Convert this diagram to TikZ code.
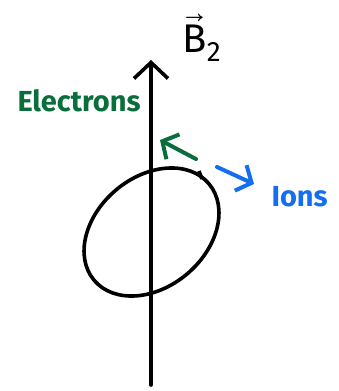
\documentclass[tikz,border=0pt]{standalone}
\usepackage{fontspec}
\usepackage{unicode-math}
\setmainfont{Fira Sans}
\setmathfont{Latin Modern Math}
\usetikzlibrary{arrows.meta}

\definecolor{elecgreen}{RGB}{10,110,60}
\definecolor{ionblue}{RGB}{20,110,240}

\begin{document}
\begin{tikzpicture}[
    x=1pt, y=-1pt,
    axis/.style={line width=3.6pt, line cap=round, -{Straight Barb[length=16pt, width=34pt, line width=3.6pt]}},
    orbit/.style={line width=3.6pt},
    drift/.style={line width=4pt, line cap=round, -{Straight Barb[length=12pt, width=28pt, line width=4pt]}},
    lbl/.style={font=\fontsize{29}{29}\selectfont\bfseries}
]
\useasboundingbox (0,0) rectangle (338,391);
\clip (0,0) rectangle (338,391);

% field axis
\coordinate (axbot) at (151,385);
\coordinate (axtop) at (151,60);
\draw[axis] (axbot) -- (axtop);
\node[font=\fontsize{40}{40}\selectfont] (field) at (202,38) {$\vec{\mathrm{B}}_{\mathrm{2}}$};

% gyration orbit
\draw[orbit, rotate around={40:(151.5,232)}] (151.5,232) ellipse (75 and 55);
\draw[line width=3.6pt] (199,171) -- (202,179);

% electrons drift
\coordinate (estart) at (196,159);
\coordinate (eend) at (160,140);
\draw[drift, elecgreen] (estart) -- (eend);
\node[lbl, elecgreen] (elec) at (79,101) {Electrons};

% ions drift
\coordinate (istart) at (217,167);
\coordinate (iend) at (254,184);
\draw[drift, ionblue] (istart) -- (iend);
\node[lbl, ionblue, anchor=west] (ions) at (268,197) {Ions};
\end{tikzpicture}
\end{document}
